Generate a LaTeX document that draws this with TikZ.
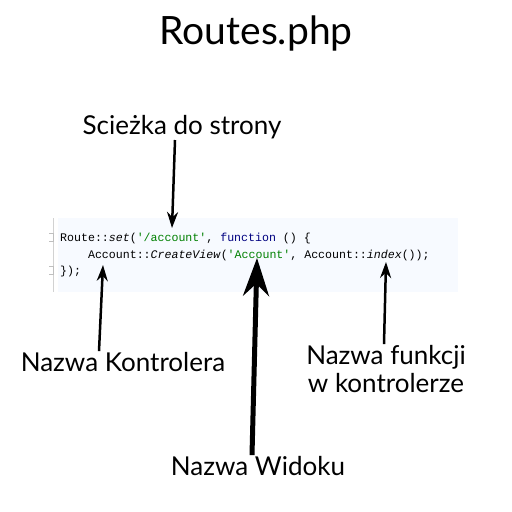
\documentclass[tikz,border=0pt]{standalone}
\usepackage{fontspec}
\setmainfont{Lato}
\newfontfamily\codefont{Liberation Mono}
\usetikzlibrary{arrows.meta}
\definecolor{codebg}{HTML}{F7FAFF}
\definecolor{codegreen}{HTML}{008000}
\definecolor{codenavy}{HTML}{000080}

\begin{document}
\begin{tikzpicture}[
  x=1pt, y=-1pt,
  label/.style={font=\fontsize{26}{28}\selectfont, inner sep=1pt, align=center},
  codeline/.style={font=\codefont\fontsize{11.6}{14}\selectfont, anchor=base west, inner sep=0pt},
  pointer/.style={line width=2.5pt, -{Stealth[length=16pt,width=11pt]}},
  bigpointer/.style={line width=5pt, -{Stealth[length=38pt,width=26pt]}}
]
\useasboundingbox (0,0) rectangle (512,512);

% title
\node[font=\fontsize{39}{44}\selectfont] (title) at (256,33) {Routes.php};

% code snippet
\fill[codebg] (58,218) rectangle (458,292);
\draw[gray!35, line width=1pt] (53,218) -- (53,292);
\draw[gray!50, line width=0.6pt] (49,233) -- (53,233) -- (53,241) -- (49,241);
\draw[gray!50, line width=0.6pt] (49,266) -- (53,266) -- (53,274) -- (49,274);
\node[codeline] (line1) at (60,241) {Route::\textit{set}(\textcolor{codegreen}{'/account'}, \textcolor{codenavy}{function} () \{};
\node[codeline] (line2) at (60,258) {\phantom{xxxx}Account::\textit{CreateView}(\textcolor{codegreen}{'Account'}, Account::\textit{index}());};
\node[codeline] (line3) at (60,274) {\});};

% arrow targets
\coordinate (atPath) at (172,228);
\coordinate (atCtrl) at (103,265);
\coordinate (atView) at (257,258);
\coordinate (atFunc) at (386,262);

% labels
\node[label] (path) at (182,127) {Scieżka do strony};
\node[label] (ctrl) at (123,362) {Nazwa Kontrolera};
\node[label] (func) at (386,369) {Nazwa funkcji\\w kontrolerze};
\node[label] (view) at (258,466) {Nazwa Widoku};

% arrows
\draw[pointer] ([xshift=-7pt]path.south) -- (atPath);
\draw[pointer] ([xshift=-24pt]ctrl.north) -- (atCtrl);
\draw[pointer] ([xshift=-2pt]func.north) -- (atFunc);
\draw[bigpointer] ([xshift=-6pt]view.north) -- (atView);
\end{tikzpicture}
\end{document}
